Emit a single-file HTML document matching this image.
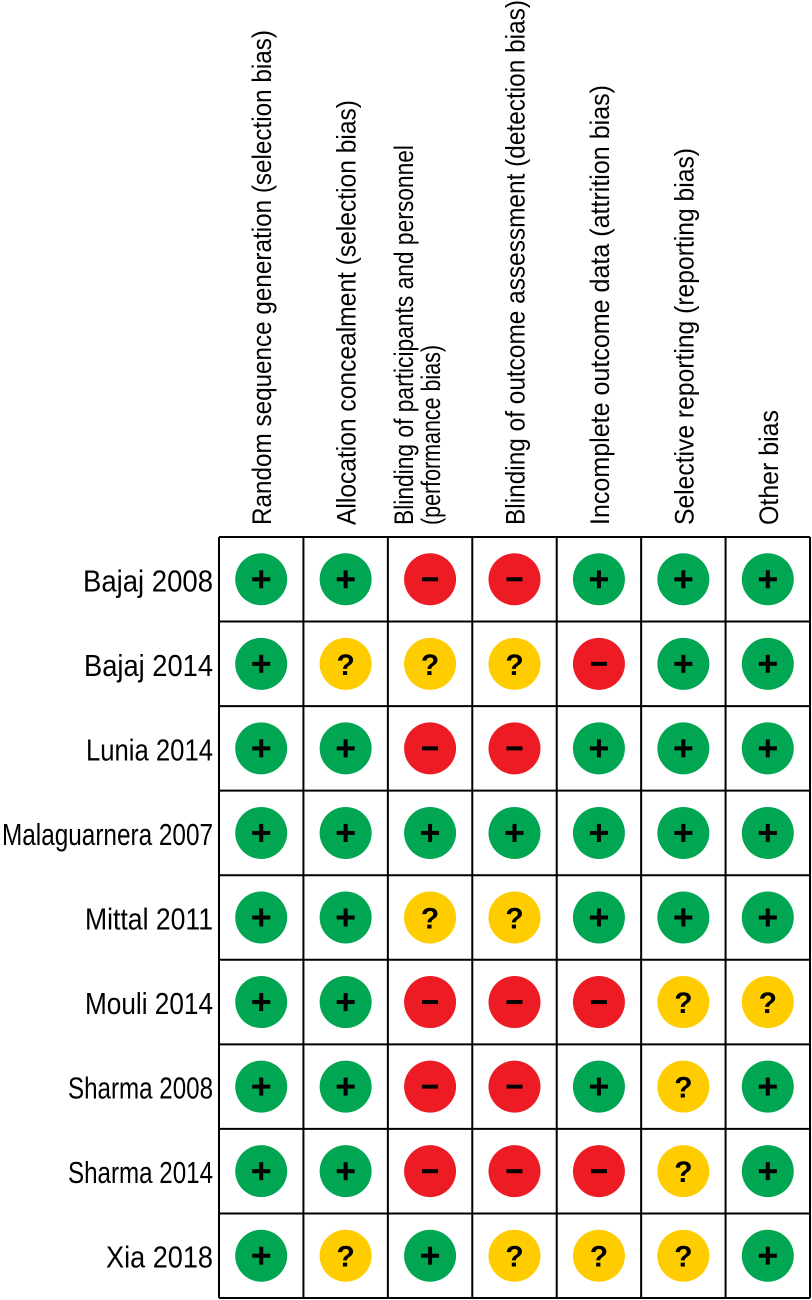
<!DOCTYPE html>
<html><head><meta charset="utf-8"><style>
html,body{margin:0;padding:0;background:#fff;}
svg{display:block;font-family:"Liberation Sans Narrow","Liberation Sans",sans-serif;}
</style></head><body>
<svg id="chart" width="812" height="1300" viewBox="0 0 812 1300"></svg>
<script>
const domains=["Random sequence generation (selection bias)","Allocation concealment (selection bias)","Blinding of participants and personnel|(performance bias)","Blinding of outcome assessment (detection bias)","Incomplete outcome data (attrition bias)","Selective reporting (reporting bias)","Other bias"];
const domainLens=[[495],[425],[380,180],[525],[440],[377],[115]];
const studies=["Bajaj 2008","Bajaj 2014","Lunia 2014","Malaguarnera 2007","Mittal 2011","Mouli 2014","Sharma 2008","Sharma 2014","Xia 2018"];
const studyLens=[130,129,127,211,128,128,145,145,107];
const judgments=[
"++--+++",
"+???-++",
"++--+++",
"+++++++",
"++??+++",
"++---??",
"++--+?+",
"++---?+",
"+?+???+"];
const NS="http://www.w3.org/2000/svg";
const svg=document.getElementById('chart');
const x0=219,x1=810,y0=537,y1=1298;
const cw=(x1-x0)/domains.length, rh=(y1-y0)/studies.length;
const colX=i=>x0+cw*(i+0.5), rowY=j=>y0+rh*(j+0.5);
function mk(t,a){const e=document.createElementNS(NS,t);for(const k in a)e.setAttribute(k,a[k]);svg.appendChild(e);return e;}
domains.forEach((d,i)=>{
  const lines=d.split('|');
  lines.forEach((l,k)=>{
    const cx=colX(i)+(lines.length>1?(k===0?-27:0):0);
    const t=mk('text',{transform:`translate(${cx+10},525) rotate(-90)`,'font-size':27,'text-anchor':'start',textLength:domainLens[i][k],lengthAdjust:'spacingAndGlyphs',fill:'#000'});
    
    
    t.textContent=l;
  });
});
studies.forEach((s,j)=>{
  const t=mk('text',{x:213,y:rowY(j)+12,'font-size':31,'text-anchor':'end',textLength:studyLens[j],lengthAdjust:'spacingAndGlyphs',fill:'#000'});
  
  
  t.textContent=s;
});
for(let i=0;i<=domains.length;i++){
  const l=mk('line',{x1:x0+cw*i,x2:x0+cw*i,y1:y0,y2:y1,stroke:'#000','stroke-width':2});
  
  
}
for(let j=0;j<=studies.length;j++){
  const l=mk('line',{x1:x0,x2:x1,y1:y0+rh*j,y2:y0+rh*j,stroke:'#000','stroke-width':2});
  
  
}
const col={'+':'#00a651','?':'#ffcc00','-':'#ed1c24'};
judgments.forEach((row,j)=>{
  [...row].forEach((v,i)=>{
    const cx=colX(i),cy=rowY(j);
    const c=mk('circle',{cx,cy,r:26,fill:col[v]});
    
    
    if(v==='+'){
      mk('rect',{x:cx-9,y:cy-2,width:18,height:4,fill:'#000'});
      mk('rect',{x:cx-2,y:cy-9,width:4,height:18,fill:'#000'});
    }else if(v==='-'){
      mk('rect',{x:cx-8,y:cy-2,width:16,height:4,fill:'#000'});
    }else{
      const t=mk('text',{x:cx,y:cy+11,'font-size':30,'font-weight':'bold','text-anchor':'middle',fill:'#000','font-family':'Liberation Sans, sans-serif'});
      
      
      t.textContent='?';
    }
  });
});
</script>
</body></html>
